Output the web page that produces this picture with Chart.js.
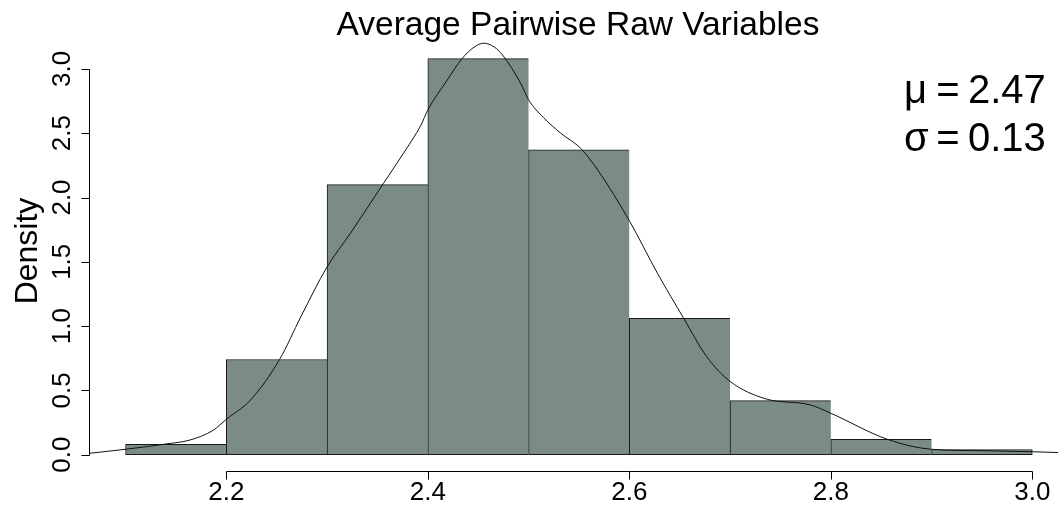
<!DOCTYPE html>
<html>
<head>
<meta charset="utf-8">
<script src="https://cdn.jsdelivr.net/npm/chart.js@4/dist/chart.umd.min.js"></script>
<style>
  html, body { margin: 0; padding: 0; background: #fff; overflow: hidden; }
  canvas { display: block; }
</style>
</head>
<body>
<canvas id="hist" width="1058" height="506"></canvas>
<script>
// histogram bins (left edge of each 0.1-wide bin) and their densities
const binStarts = [2.1, 2.2, 2.3, 2.4, 2.5, 2.6, 2.7, 2.8, 2.9];
const binWidth = 0.1;
const densities = [0.08, 0.74, 2.10, 3.08, 2.37, 1.06, 0.42, 0.12, 0.04];

// kernel density estimate, traced along the x range
const kdeX = [2.055, 2.10, 2.14, 2.164, 2.187, 2.20, 2.224, 2.253, 2.274, 2.30, 2.323, 2.356, 2.378,
              2.393, 2.40, 2.419, 2.434, 2.446, 2.4555, 2.466, 2.474, 2.492, 2.50, 2.515, 2.532,
              2.552, 2.569, 2.60, 2.628, 2.654, 2.677, 2.70, 2.735, 2.78, 2.80, 2.856, 2.90,
              2.951, 3.00, 3.04];
const kdeY = [0.003, 0.042, 0.083, 0.114, 0.19, 0.275, 0.425, 0.742, 1.073, 1.46, 1.72, 2.11, 2.37,
              2.56, 2.68, 2.91, 3.08, 3.17, 3.20, 3.17, 3.11, 2.89, 2.76, 2.62, 2.50,
              2.38, 2.21, 1.82, 1.41, 1.06, 0.76, 0.57, 0.435, 0.386, 0.322, 0.12, 0.042,
              0.031, 0.023, 0.013];

const xTicks = [2.2, 2.4, 2.6, 2.8, 3.0];
const yTicks = [0, 0.5, 1.0, 1.5, 2.0, 2.5, 3.0];

const title = 'Average Pairwise Raw Variables';
const yTitle = 'Density';
const statSymbols = ['\u03bc', '\u03c3'];
const statValues = ['2.47', '0.13'];

const FONT = '"Liberation Sans", Arial, sans-serif';

// R-style axes: lines only across the tick range, rotated y labels
const baseGraphics = {
  id: 'baseGraphics',
  afterDraw(chart) {
    const { ctx, chartArea } = chart;
    const xs = chart.scales.x, ys = chart.scales.y;
    ctx.save();
    ctx.strokeStyle = '#000';
    ctx.fillStyle = '#000';
    ctx.lineWidth = 1;

    // x axis
    const ay = Math.round(chartArea.bottom) + 0.5;
    const x0 = xs.getPixelForValue(xTicks[0]);
    const x1 = xs.getPixelForValue(xTicks[xTicks.length - 1]);
    ctx.beginPath();
    ctx.moveTo(Math.round(x0) + 0.5, ay);
    ctx.lineTo(Math.round(x1) + 0.5, ay);
    xTicks.forEach(v => {
      const px = Math.round(xs.getPixelForValue(v)) + 0.5;
      ctx.moveTo(px, ay);
      ctx.lineTo(px, ay + 8);
    });
    ctx.stroke();
    ctx.font = '26px ' + FONT;
    ctx.textAlign = 'center';
    ctx.textBaseline = 'alphabetic';
    xTicks.forEach(v => ctx.fillText(v.toFixed(1), xs.getPixelForValue(v), 500));

    // y axis
    const ax = Math.round(chartArea.left) - 0.5;
    const y0 = ys.getPixelForValue(yTicks[0]);
    const y1 = ys.getPixelForValue(yTicks[yTicks.length - 1]);
    ctx.beginPath();
    ctx.moveTo(ax, Math.round(y0) + 0.5);
    ctx.lineTo(ax, Math.round(y1) + 0.5);
    yTicks.forEach(v => {
      const py = Math.round(ys.getPixelForValue(v)) + 0.5;
      ctx.moveTo(ax, py);
      ctx.lineTo(ax - 8, py);
    });
    ctx.stroke();
    yTicks.forEach(v => {
      ctx.save();
      ctx.translate(70, ys.getPixelForValue(v));
      ctx.rotate(-Math.PI / 2);
      ctx.fillText(v.toFixed(1), 0, 0);
      ctx.restore();
    });

    // axis title
    ctx.save();
    ctx.font = '32px ' + FONT;
    ctx.translate(37, 251);
    ctx.rotate(-Math.PI / 2);
    ctx.fillText(yTitle, 0, 0);
    ctx.restore();

    // main title
    ctx.font = '33.5px ' + FONT;
    ctx.fillText(title, 578, 35);

    // mean / sd annotation
    const baselines = [103, 151];
    ctx.font = '40px ' + FONT;
    statSymbols.forEach((s, i) => {
      ctx.textAlign = 'left';
      ctx.fillText(s, 904, baselines[i]);
      ctx.textAlign = 'center';
      ctx.fillText('=', 948, baselines[i]);
      ctx.textAlign = 'left';
      ctx.fillText(statValues[i], 968, baselines[i]);
    });
    ctx.restore();
  }
};

const lastBin = binStarts.length - 1;

new Chart(document.getElementById('hist'), {
  type: 'bar',
  data: {
    datasets: [
      {
        type: 'line',
        data: kdeX.map((x, i) => ({ x, y: kdeY[i] })),
        borderColor: '#111',
        borderWidth: 1,
        pointRadius: 0,
        cubicInterpolationMode: 'monotone',
        fill: false,
        order: 0
      },
      {
        type: 'bar',
        data: binStarts.map((b, i) => ({ x: b + binWidth / 2, y: densities[i] })),
        backgroundColor: '#7a8b88',
        borderColor: '#1a1a1a',
        borderWidth: ctx => ({ top: 1, left: 1, bottom: 1, right: ctx.dataIndex === lastBin ? 1 : 0 }),
        borderSkipped: false,
        barPercentage: 1,
        categoryPercentage: 1,
        order: 1
      }
    ]
  },
  options: {
    responsive: false,
    animation: false,
    layout: { padding: { left: 90, right: 0, top: 27, bottom: 35 } },
    plugins: {
      legend: { display: false },
      tooltip: { enabled: false }
    },
    scales: {
      x: {
        type: 'linear',
        display: false,
        offset: false,
        min: 2.0647,
        max: 3.0255,
        afterBuildTicks: s => { s.ticks = xTicks.map(v => ({ value: v })); }
      },
      y: {
        type: 'linear',
        display: false,
        min: -0.127,
        max: 3.326,
        afterBuildTicks: s => { s.ticks = yTicks.map(v => ({ value: v })); }
      }
    }
  },
  plugins: [baseGraphics]
});
</script>
</body>
</html>
